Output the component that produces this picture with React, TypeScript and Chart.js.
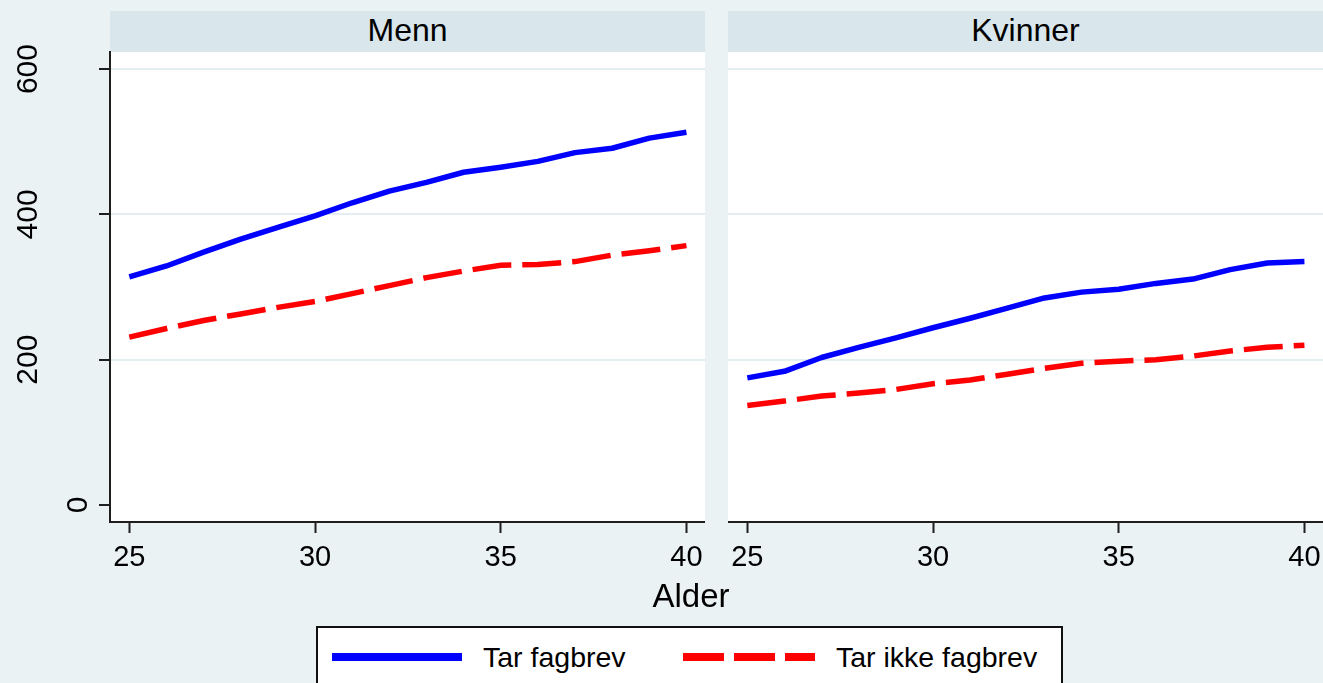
import React, { useEffect, useRef } from "react";
import { Chart, registerables } from "chart.js";

Chart.register(...registerables);

// ---- data ----
const AGES = [25, 26, 27, 28, 29, 30, 31, 32, 33, 34, 35, 36, 37, 38, 39, 40];
const MENN_FAGBREV = [314, 329, 348, 366, 382, 398, 416, 432, 444, 458, 465, 473, 485, 491, 505, 513];
const MENN_IKKE = [231, 243, 254, 263, 272, 280, 291, 302, 313, 322, 330, 331, 335, 344, 350, 357];
const KVINNER_FAGBREV = [175, 184, 203, 217, 230, 244, 257, 271, 285, 293, 297, 305, 311, 324, 333, 335];
const KVINNER_IKKE = [137, 143, 150, 154, 159, 167, 172, 180, 188, 195, 198, 200, 205, 212, 217, 220];
const PANELS = ["Menn", "Kvinner"];
const SERIES = ["Tar fagbrev", "Tar ikke fagbrev"];
const X_TICKS = [25, 30, 35, 40];
const Y_TICKS = [0, 200, 400, 600];
const X_TITLE = "Alder";

// ---- style ----
const BG = "#eaf2f3";
const STRIP = "#d9e6eb";
const GRID = "#e4edf0";
const AXIS = "#1e1e1e";
const BLUE = "#0000ff";
const RED = "#ff0000";
const FONT = "'Liberation Sans', Arial, Helvetica, sans-serif";

const whiteArea = {
  id: "whiteArea",
  beforeDraw(chart: any) {
    const { ctx, chartArea } = chart;
    ctx.save();
    ctx.fillStyle = "#ffffff";
    ctx.fillRect(chartArea.left, chartArea.top, chartArea.right - chartArea.left, chartArea.bottom - chartArea.top);
    ctx.restore();
  },
};

const yLabels = {
  id: "yLabels",
  afterDraw(chart: any) {
    const { ctx } = chart;
    const s = chart.scales.y;
    const size = 30;
    ctx.save();
    ctx.font = `${size}px ${FONT}`;
    ctx.fillStyle = "#000";
    ctx.textAlign = "center";
    ctx.textBaseline = "alphabetic";
    for (const v of Y_TICKS) {
      const t = String(v);
      const w = ctx.measureText(t).width;
      const cy = s.getPixelForValue(v);
      const cx = s.right - 9 - 1.5 * w;
      ctx.save();
      ctx.translate(cx, cy);
      ctx.rotate(-Math.PI / 2);
      ctx.fillText(t, 0, 0.358 * size);
      ctx.restore();
    }
    ctx.restore();
  },
};

function Panel(props: { left: number; width: number; yAxis: boolean; fag: number[]; ikke: number[] }) {
  const ref = useRef<HTMLCanvasElement>(null);
  const { yAxis, fag, ikke } = props;
  useEffect(() => {
    const yw = yAxis ? 110 : 0;
    const chart = new Chart(ref.current as HTMLCanvasElement, {
      type: "line",
      data: {
        datasets: [
          {
            label: SERIES[0],
            data: AGES.map((a, i) => ({ x: a, y: fag[i] })),
            borderColor: BLUE,
            backgroundColor: BLUE,
            borderWidth: 5.5,
            pointRadius: 0,
            tension: 0,
            borderJoinStyle: "round",
            borderCapStyle: "butt",
          },
          {
            label: SERIES[1],
            data: AGES.map((a, i) => ({ x: a, y: ikke[i] })),
            borderColor: RED,
            backgroundColor: RED,
            borderWidth: 5.5,
            borderDash: [39, 11],
            pointRadius: 0,
            tension: 0,
            borderCapStyle: "butt",
          },
        ],
      },
      options: {
        responsive: false,
        animation: false,
        events: [],
        layout: { padding: { top: 52, left: 0, right: 0, bottom: 0 } },
        plugins: { legend: { display: false }, tooltip: { enabled: false }, title: { display: false } },
        scales: {
          x: {
            type: "linear",
            min: 24.48,
            max: 40.5,
            afterBuildTicks: (s: any) => {
              s.ticks = X_TICKS.map((v) => ({ value: v }));
            },
            afterFit: (s: any) => {
              s.height = 60;
              s.paddingLeft = 0;
              s.paddingRight = 0;
            },
            grid: { drawOnChartArea: false, drawTicks: true, tickLength: 11, tickColor: AXIS, tickWidth: 2 },
            border: { display: true, color: AXIS, width: 2 },
            ticks: {
              font: { family: FONT, size: 29 },
              color: "#000",
              padding: 8,
              maxRotation: 0,
              minRotation: 0,
              autoSkip: false,
              callback: (v: any) => String(v),
            },
          },
          y: {
            type: "linear",
            min: -23.4,
            max: 623.5,
            afterBuildTicks: (s: any) => {
              s.ticks = Y_TICKS.map((v) => ({ value: v }));
            },
            afterFit: (s: any) => {
              s.width = yw;
              s.paddingTop = 0;
              s.paddingBottom = 0;
            },
            grid: {
              color: (c: any) => (c.tick && c.tick.value === 0 ? "rgba(0,0,0,0)" : GRID),
              lineWidth: 2,
              drawTicks: yAxis,
              tickLength: 11,
              tickColor: AXIS,
              tickWidth: 2,
            },
            border: { display: yAxis, color: AXIS, width: 2 },
            ticks: { display: false },
          },
        },
      } as any,
      plugins: yAxis ? [whiteArea, yLabels] : [whiteArea],
    });
    return () => chart.destroy();
  }, []);
  return (
    <canvas
      ref={ref}
      width={props.width}
      height={582}
      style={{ position: "absolute", left: props.left, top: 0, width: props.width, height: 582 }}
    />
  );
}

function Strip(props: { left: number; width: number; text: string }) {
  return (
    <div
      style={{
        position: "absolute",
        left: props.left,
        top: 11,
        width: props.width,
        height: 41,
        background: STRIP,
      }}
    >
      <div
        style={{
          position: "absolute",
          left: 0,
          top: 3,
          width: props.width,
          textAlign: "center",
          fontFamily: FONT,
          fontSize: 32,
          lineHeight: "32px",
          color: "#000",
        }}
      >
        {props.text}
      </div>
    </div>
  );
}

export default function App() {
  const textStyle: React.CSSProperties = {
    position: "absolute",
    fontFamily: FONT,
    fontSize: 28.5,
    lineHeight: "28.5px",
    color: "#000",
    whiteSpace: "nowrap",
  };
  return (
    <div
      style={{
        position: "fixed",
        left: 0,
        top: 0,
        width: 1323,
        height: 683,
        background: BG,
        overflow: "hidden",
      }}
    >
      <Strip left={110} width={595} text={PANELS[0]} />
      <Strip left={728} width={595} text={PANELS[1]} />
      <Panel left={0} width={705} yAxis={true} fag={MENN_FAGBREV} ikke={MENN_IKKE} />
      <Panel left={728} width={595} yAxis={false} fag={KVINNER_FAGBREV} ikke={KVINNER_IKKE} />
      <div
        style={{
          position: "absolute",
          left: 591,
          top: 579,
          width: 200,
          textAlign: "center",
          fontFamily: FONT,
          fontSize: 33,
          lineHeight: "33px",
          color: "#000",
        }}
      >
        {X_TITLE}
      </div>
      <div
        style={{
          position: "absolute",
          left: 316,
          top: 626,
          width: 747,
          height: 80,
          background: "#fff",
          border: "2px solid #111",
          boxSizing: "border-box",
        }}
      />
      <div style={{ position: "absolute", left: 332, top: 653, width: 130, height: 8, background: BLUE }} />
      <div style={{ ...textStyle, left: 483, top: 643 }}>{SERIES[0]}</div>
      <div
        style={{
          position: "absolute",
          left: 683,
          top: 653,
          width: 132,
          height: 8,
          background: `repeating-linear-gradient(to right, ${RED} 0px, ${RED} 41px, transparent 41px, transparent 51px)`,
        }}
      />
      <div style={{ ...textStyle, left: 836, top: 643 }}>{SERIES[1]}</div>
    </div>
  );
}
